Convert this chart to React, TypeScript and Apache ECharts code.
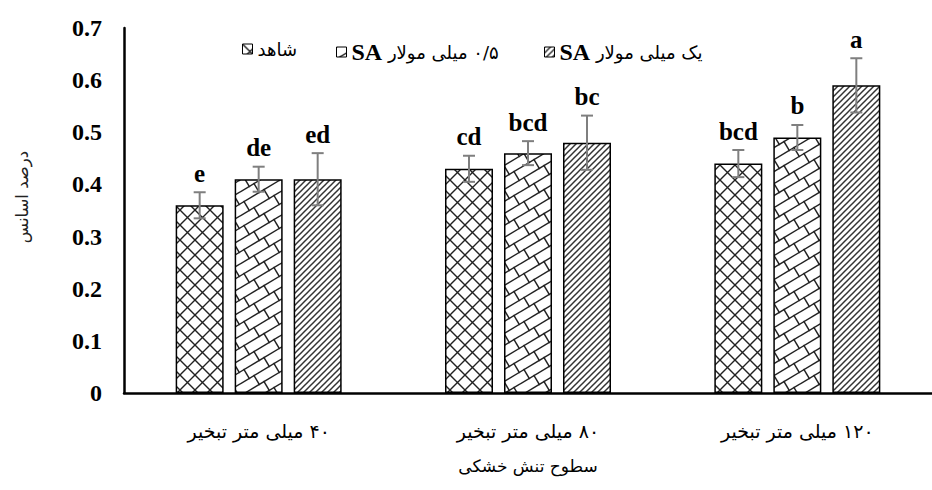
import React, { useEffect, useRef } from 'react';
import * as echarts from 'echarts';

const categories = ['۴۰ میلی متر تبخیر', '۸۰ میلی متر تبخیر', '۱۲۰ میلی متر تبخیر'];
const seriesNames = ['شاهد', '۰/۵ میلی مولار SA', 'یک میلی مولار SA'];
const controlValues = [0.36, 0.43, 0.44];
const sa05Values = [0.41, 0.46, 0.49];
const sa1Values = [0.41, 0.48, 0.59];
const controlErrors = [0.025, 0.025, 0.026];
const sa05Errors = [0.024, 0.023, 0.024];
const sa1Errors = [0.05, 0.052, 0.052];
const controlLetters = ['e', 'cd', 'bcd'];
const sa05Letters = ['de', 'bcd', 'b'];
const sa1Letters = ['ed', 'bc', 'a'];
const yAxisName = 'درصد اسانس';
const xAxisName = 'سطوح تنش خشکی';
const yMin = 0;
const yMax = 0.7;
const yInterval = 0.1;

const RLE = '\u202B';
const PDF = '\u202C';
const SERIF = '"Liberation Serif", "Times New Roman", "DejaVu Sans", serif';
const FA = '"DejaVu Sans", "Liberation Serif", sans-serif';

function makePattern(kind: number) {
  const c = document.createElement('canvas');
  let w = 15, h = 15;
  if (kind === 1) { w = 40; h = 24; }
  if (kind === 2) { w = 6; h = 6; }
  c.width = w; c.height = h;
  const ctx = c.getContext('2d')!;
  ctx.fillStyle = '#fff';
  ctx.fillRect(0, 0, w, h);
  ctx.strokeStyle = '#222';
  ctx.lineCap = 'square';
  if (kind === 0) {
    ctx.lineWidth = 1.4;
    for (let dx = -w; dx <= w; dx += w) {
      for (let dy = -h; dy <= h; dy += h) {
        ctx.beginPath();
        ctx.moveTo(dx, dy); ctx.lineTo(dx + w, dy + h);
        ctx.moveTo(dx + w, dy); ctx.lineTo(dx, dy + h);
        ctx.stroke();
      }
    }
  } else if (kind === 1) {
    ctx.lineWidth = 1.5;
    const s = 0.6;
    for (let k = -5; k <= 7; k++) {
      ctx.beginPath();
      ctx.moveTo(-40, 12 + s * 40 + 12 * k);
      ctx.lineTo(80, 12 - s * 80 + 12 * k);
      ctx.stroke();
      for (let m = -3; m <= 5; m++) {
        const x0 = 4 + 20 * m + (Math.abs(k) % 2 === 1 ? 10 : 0);
        const y0 = 12 - s * x0 + 12 * k;
        ctx.beginPath();
        ctx.moveTo(x0, y0);
        ctx.lineTo(x0 + 5.29, y0 + 8.82);
        ctx.stroke();
      }
    }
  } else {
    ctx.strokeStyle = '#333';
    ctx.lineWidth = 1.5;
    for (let dx = -w; dx <= w; dx += w) {
      ctx.beginPath();
      ctx.moveTo(dx, h); ctx.lineTo(dx + w, 0);
      ctx.stroke();
    }
  }
  return { image: c.toDataURL(), repeat: 'repeat', imageWidth: w, imageHeight: h } as any;
}

export default function App() {
  const ref = useRef<HTMLDivElement>(null);
  useEffect(() => {
    if (!ref.current) return;
    const chart = echarts.init(ref.current, undefined, { renderer: 'svg' });
    const values = [controlValues, sa05Values, sa1Values];
    const errors = [controlErrors, sa05Errors, sa1Errors];
    const letters = [controlLetters, sa05Letters, sa1Letters];
    const barWidth = 48;
    const gap = 11;
    const patterns = [makePattern(0), makePattern(1), makePattern(2)];

    const barSeries = values.map((vals, i) => ({
      type: 'bar',
      name: seriesNames[i],
      data: vals,
      barWidth,
      barGap: `${(gap / barWidth) * 100}%`,
      itemStyle: { color: patterns[i], borderColor: '#000', borderWidth: 1.5 },
      z: 2,
    }));

    const errSeries = values.map((vals, i) => ({
      type: 'custom',
      z: 5,
      data: vals.map((v, j) => [j, v, errors[i][j]]),
      renderItem: (params: any, api: any) => {
        const ci = api.value(0);
        const v = api.value(1);
        const e = api.value(2);
        const base = api.coord([ci, v]);
        const x = base[0] + (i - 1) * (barWidth + gap);
        const top = api.coord([ci, v + e])[1];
        const bot = api.coord([ci, v - e])[1];
        const cap = 6;
        const st = { stroke: '#7f7f7f', lineWidth: 2 };
        return {
          type: 'group',
          children: [
            { type: 'line', shape: { x1: x, y1: top, x2: x, y2: bot }, style: st },
            { type: 'line', shape: { x1: x - cap, y1: top, x2: x + cap, y2: top }, style: st },
            { type: 'line', shape: { x1: x - cap, y1: bot, x2: x + cap, y2: bot }, style: st },
            {
              type: 'text',
              x,
              y: top - 19,
              style: {
                text: letters[i][params.dataIndex],
                align: 'center',
                verticalAlign: 'middle',
                fontFamily: SERIF,
                fontWeight: 'bold',
                fontSize: 25,
                fill: '#000',
              },
            },
          ],
        };
      },
    }));

    const legendLefts = [237, 331, 539];
    const legends = seriesNames.map((n, i) => ({
      data: [n],
      left: legendLefts[i],
      top: 35,
      icon: 'rect',
      itemWidth: 10,
      itemHeight: 10,
      itemGap: 6,
      selectedMode: false,
      itemStyle: { borderColor: '#000', borderWidth: 1 },
      formatter: (name: string) => {
        if (name.endsWith(' SA')) {
          const base = name.slice(0, -3);
          return `{sa|SA} {fa|${RLE}${base}${PDF}}`;
        }
        return `{fa|${name}}`;
      },
      textStyle: {
        fontFamily: FA,
        fontSize: 18,
        color: '#000',
        rich: {
          sa: { fontFamily: SERIF, fontWeight: 'bold', fontSize: 24, color: '#000' },
          fa: { fontFamily: FA, fontSize: 18, color: '#000' },
        },
      },
    }));

    chart.setOption({
      animation: false,
      backgroundColor: '#fff',
      grid: { left: 124, right: -11, top: 28, bottom: 97, containLabel: false },
      legend: legends,
      xAxis: {
        type: 'category',
        data: categories,
        axisLine: { lineStyle: { color: '#000', width: 2.5 } },
        axisTick: { show: false },
        axisLabel: {
          margin: 28,
          fontFamily: FA,
          fontSize: 19,
          color: '#000',
          formatter: (v: string) => `${RLE}${v}${PDF}`,
        },
        name: xAxisName,
        nameLocation: 'middle',
        nameGap: 64,
        nameTextStyle: { fontFamily: FA, fontSize: 17, color: '#000' },
      },
      yAxis: {
        type: 'value',
        min: yMin,
        max: yMax,
        interval: yInterval,
        axisLine: { show: true, lineStyle: { color: '#000', width: 2.5 } },
        axisTick: { show: false },
        splitLine: { show: false },
        axisLabel: {
          margin: 22,
          fontFamily: SERIF,
          fontWeight: 'bold',
          fontSize: 24,
          color: '#000',
          formatter: (v: number) => (v === 0 ? '0' : v.toFixed(1)),
        },
      },
      graphic: [
        {
          type: 'text',
          x: 22,
          y: 197,
          rotation: Math.PI / 2,
          style: {
            text: yAxisName,
            align: 'center',
            verticalAlign: 'middle',
            fontFamily: FA,
            fontSize: 16.5,
            fill: '#222',
          },
        },
      ],
      series: [...barSeries, ...errSeries],
    } as any);
    return () => chart.dispose();
  }, []);
  return (
    <div
      ref={ref}
      style={{ position: 'fixed', left: 0, top: 0, width: 932, height: 490, background: '#fff' }}
    />
  );
}
